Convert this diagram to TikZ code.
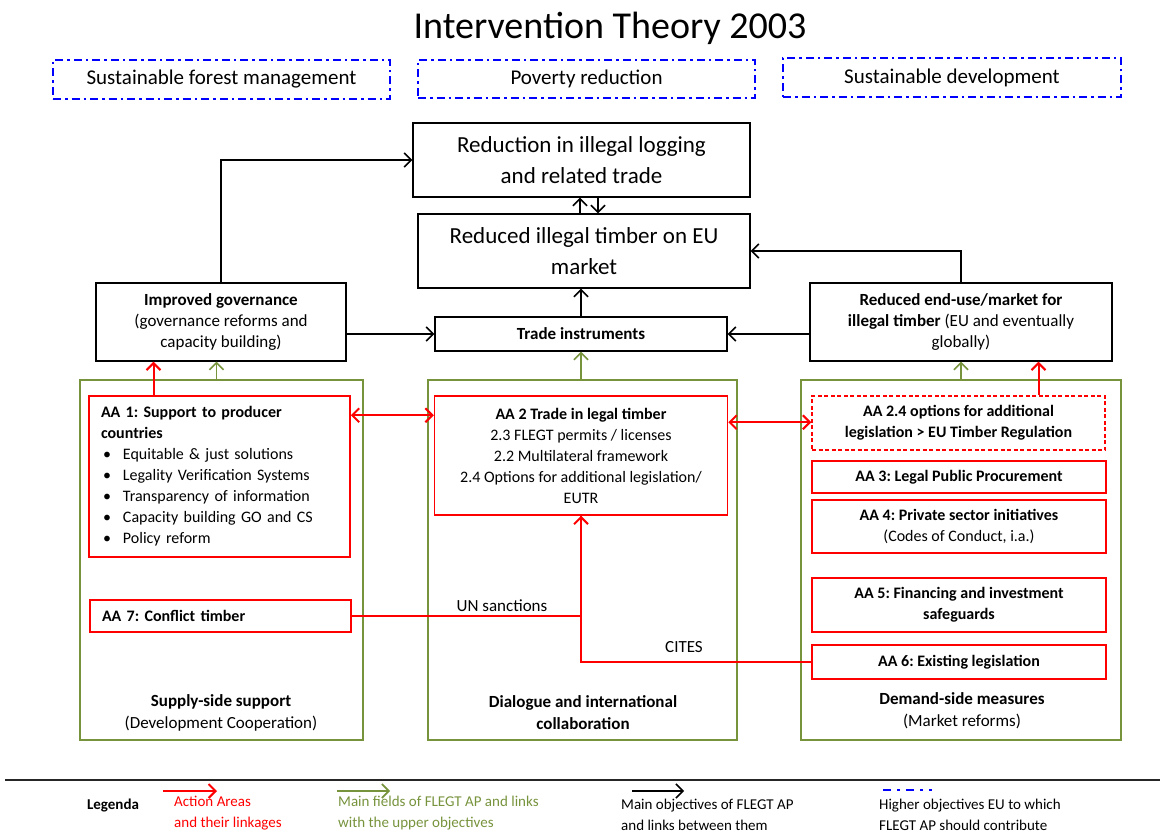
\documentclass[tikz,border=0pt]{standalone}
\usepackage{fontspec}
\setmainfont{Carlito}
\usetikzlibrary{arrows.meta}
\definecolor{fgreen}{RGB}{119,147,60}
\definecolor{fblue}{RGB}{0,0,255}
\definecolor{fred}{RGB}{255,0,0}
\newcommand\fsz[2]{\fontsize{#1pt}{#2pt}\selectfont}
\newcommand\bitem{\hspace*{2pt}\makebox[20pt][l]{\textbullet}}
\frenchspacing
\tikzset{
  tip/.style={-{Straight Barb[length=7pt,width=14pt]}},
  goal/.style={draw=fblue, line width=2.4pt, dash pattern=on 8pt off 4pt on 2.5pt off 4pt,
    inner sep=0pt, align=center, font=\fsz{21}{25}},
  objbox/.style={draw=black, line width=1.4pt, inner sep=0pt, align=center},
  fieldbox/.style={draw=fgreen, line width=1.5pt, inner sep=0pt},
  aabox/.style={draw=fred, line width=1.5pt, inner sep=0pt, align=center, font=\fsz{16}{21}},
  blk/.style={draw=black, line width=1.5pt, tip},
  grn/.style={draw=fgreen, line width=1.6pt, tip},
  rd/.style={draw=fred, line width=2pt},
  lbl/.style={inner sep=0pt, align=center, font=\fsz{17}{22}},
  legtxt/.style={inner sep=0pt, align=left, anchor=west, font=\fsz{15}{21}},
}
\begin{document}
\begin{tikzpicture}[x=1pt, y=-1pt]
\useasboundingbox (0,0) rectangle (1160,834);

% title and overall goals
\node[inner sep=0pt, font=\fsz{38}{44}] (title) at (610,28) {Intervention Theory 2003};
\node[goal, minimum width=337, minimum height=39] (g1) at (221.5,79.5) {Sustainable forest management};
\node[goal, minimum width=337, minimum height=38] (g2) at (586.5,79) {Poverty reduction};
\node[goal, minimum width=338, minimum height=39] (g3) at (952,77.5) {Sustainable development};

% main objectives
\node[objbox, minimum width=337, minimum height=74, font=\fsz{23}{31}] (top) at (581.5,160)
  {Reduction in illegal logging\\and related trade};
\node[objbox, minimum width=332, minimum height=74, font=\fsz{23}{31}] (eum) at (584,251)
  {Reduced illegal timber on EU\\market};
\node[objbox, minimum width=292, minimum height=34, font=\fsz{17}{21}] (trade) at (581,334)
  {\textbf{Trade instruments}};
\node[objbox, minimum width=250, minimum height=78, font=\fsz{17}{21}] (gov) at (221,322)
  {\textbf{Improved governance}\\(governance reforms and\\capacity building)};
\node[objbox, minimum width=302, minimum height=78, font=\fsz{17}{21}] (endb) at (961,322)
  {\textbf{Reduced end-use/market for}\\\textbf{illegal timber} (EU and eventually\\globally)};

% main fields
\node[fieldbox, minimum width=283, minimum height=360] (leftc) at (221.5,560) {};
\node[fieldbox, minimum width=309, minimum height=360] (midc) at (582.5,560) {};
\node[fieldbox, minimum width=320, minimum height=360] (rightc) at (961,560) {};
\node[lbl] (supply) at (221,713) {\textbf{Supply-side support}\\(Development Cooperation)};
\node[lbl] (dialog) at (583,713) {\textbf{Dialogue and international}\\\textbf{collaboration}};
\node[lbl] (demand) at (962,711) {\textbf{Demand-side measures}\\(Market reforms)};

% action areas
\node[aabox, minimum width=261, minimum height=161, text width=237pt, align=left] (aa1) at (219.5,476.5)
  {\textbf{AA 1: Support to producer}\\\textbf{countries}\\
   \bitem Equitable \& just solutions\\
   \bitem Legality Verification Systems\\
   \bitem Transparency of information\\
   \bitem Capacity building GO and CS\\
   \bitem Policy reform};
\node[aabox, minimum width=261, minimum height=32, text width=237pt, align=left] (aa7) at (220.5,616)
  {\textbf{AA 7: Conflict timber}};
\node[aabox, minimum width=293, minimum height=119] (aa2) at (581,455.5)
  {\textbf{AA 2 Trade in legal timber}\\2.3 FLEGT permits / licenses\\2.2 Multilateral framework\\2.4 Options for additional legislation/\\EUTR};
\node[aabox, dash pattern=on 4pt off 2.5pt, minimum width=293, minimum height=54] (aa24) at (958.5,423)
  {\textbf{AA 2.4 options for additional}\\\textbf{legislation > EU Timber Regulation}};
\node[aabox, minimum width=294, minimum height=32] (aa3) at (959,477) {\textbf{AA 3: Legal Public Procurement}};
\node[aabox, minimum width=294, minimum height=53] (aa4) at (959,526.5)
  {\textbf{AA 4: Private sector initiatives}\\(Codes of Conduct, i.a.)};
\node[aabox, minimum width=294, minimum height=54] (aa5) at (959,605)
  {\textbf{AA 5: Financing and investment}\\\textbf{safeguards}};
\node[aabox, minimum width=294, minimum height=34] (aa6) at (959,662) {\textbf{AA 6: Existing legislation}};

% links between main objectives
\draw[blk] (gov.north) |- (top.west);
\draw[blk] (endb.north) |- (eum.east);
\draw[blk] (trade.west -| gov.east) -- (trade.west);
\draw[blk] (trade.east -| endb.west) -- (trade.east);
\draw[blk] (trade.north) -- (trade.north |- eum.south);
\draw[blk] ([xshift=-4pt]eum.north) -- ([xshift=-4pt]eum.north |- top.south);
\draw[blk] ([xshift=14pt]eum.north |- top.south) -- ([xshift=14pt]eum.north);

% fields to objectives
\draw[grn] ([xshift=-5pt]leftc.north) -- ([xshift=-5pt]leftc.north |- gov.south);
\draw[grn] (midc.north -| trade.south) -- (trade.south);
\draw[grn] (rightc.north -| endb.south) -- (endb.south);

% action areas to objectives and between them
\draw[rd, tip] ([xshift=-66pt]aa1.north) -- ([xshift=-66pt]aa1.north |- gov.south);
\draw[rd, tip] ([xshift=80pt]aa24.north) -- ([xshift=80pt]aa24.north |- endb.south);
\draw[rd, {Straight Barb[length=7pt,width=14pt]}-{Straight Barb[length=7pt,width=14pt]}]
  ([yshift=-20pt]aa1.north east) -- ([yshift=-20pt]aa1.north east -| aa2.west);
\draw[rd, {Straight Barb[length=7pt,width=14pt]}-{Straight Barb[length=7pt,width=14pt]}]
  ([yshift=-27pt]aa2.north east) -- ([yshift=-27pt]aa2.north east -| aa24.west);
\draw[rd, tip] (aa7.east) -| (aa2.south);
\draw[rd] (aa6.west) -| (aa2.south);
\node[inner sep=0pt, font=\fsz{17}{21}] (un) at (502,606) {UN sanctions};
\node[inner sep=0pt, font=\fsz{17}{21}] (cites) at (684,647) {CITES};

% legend
\coordinate (la) at (5,780);
\coordinate (lb) at (1160,780);
\draw[line width=1.3pt, black!85] (la) -- (lb);
\node[inner sep=0pt, font=\fsz{15}{21}] (legenda) at (113,806) {\textbf{Legenda}};
\coordinate (r1) at (163,791); \coordinate (r2) at (217,791);
\coordinate (e1) at (337,791); \coordinate (e2) at (390,791);
\coordinate (k1) at (632,791); \coordinate (k2) at (684,791);
\coordinate (b1) at (883,790); \coordinate (b2) at (932,790);
\draw[rd, tip] (r1) -- (r2);
\draw[grn] (e1) -- (e2);
\draw[blk] (k1) -- (k2);
\draw[draw=fblue, line width=2.4pt, dash pattern=on 8pt off 6pt on 3pt off 6pt] (b1) -- (b2);
\node[legtxt, text=fred] (lr) at (174,813) {Action Areas\\and their linkages};
\node[legtxt, text=fgreen] (lg) at (338,813) {Main fields of FLEGT AP and links\\with the upper objectives};
\node[legtxt] (lk) at (621,815) {Main objectives of FLEGT AP\\and links between them};
\node[legtxt] (lbz) at (879,815) {Higher objectives EU to which\\FLEGT AP should contribute};
\end{tikzpicture}
\end{document}
